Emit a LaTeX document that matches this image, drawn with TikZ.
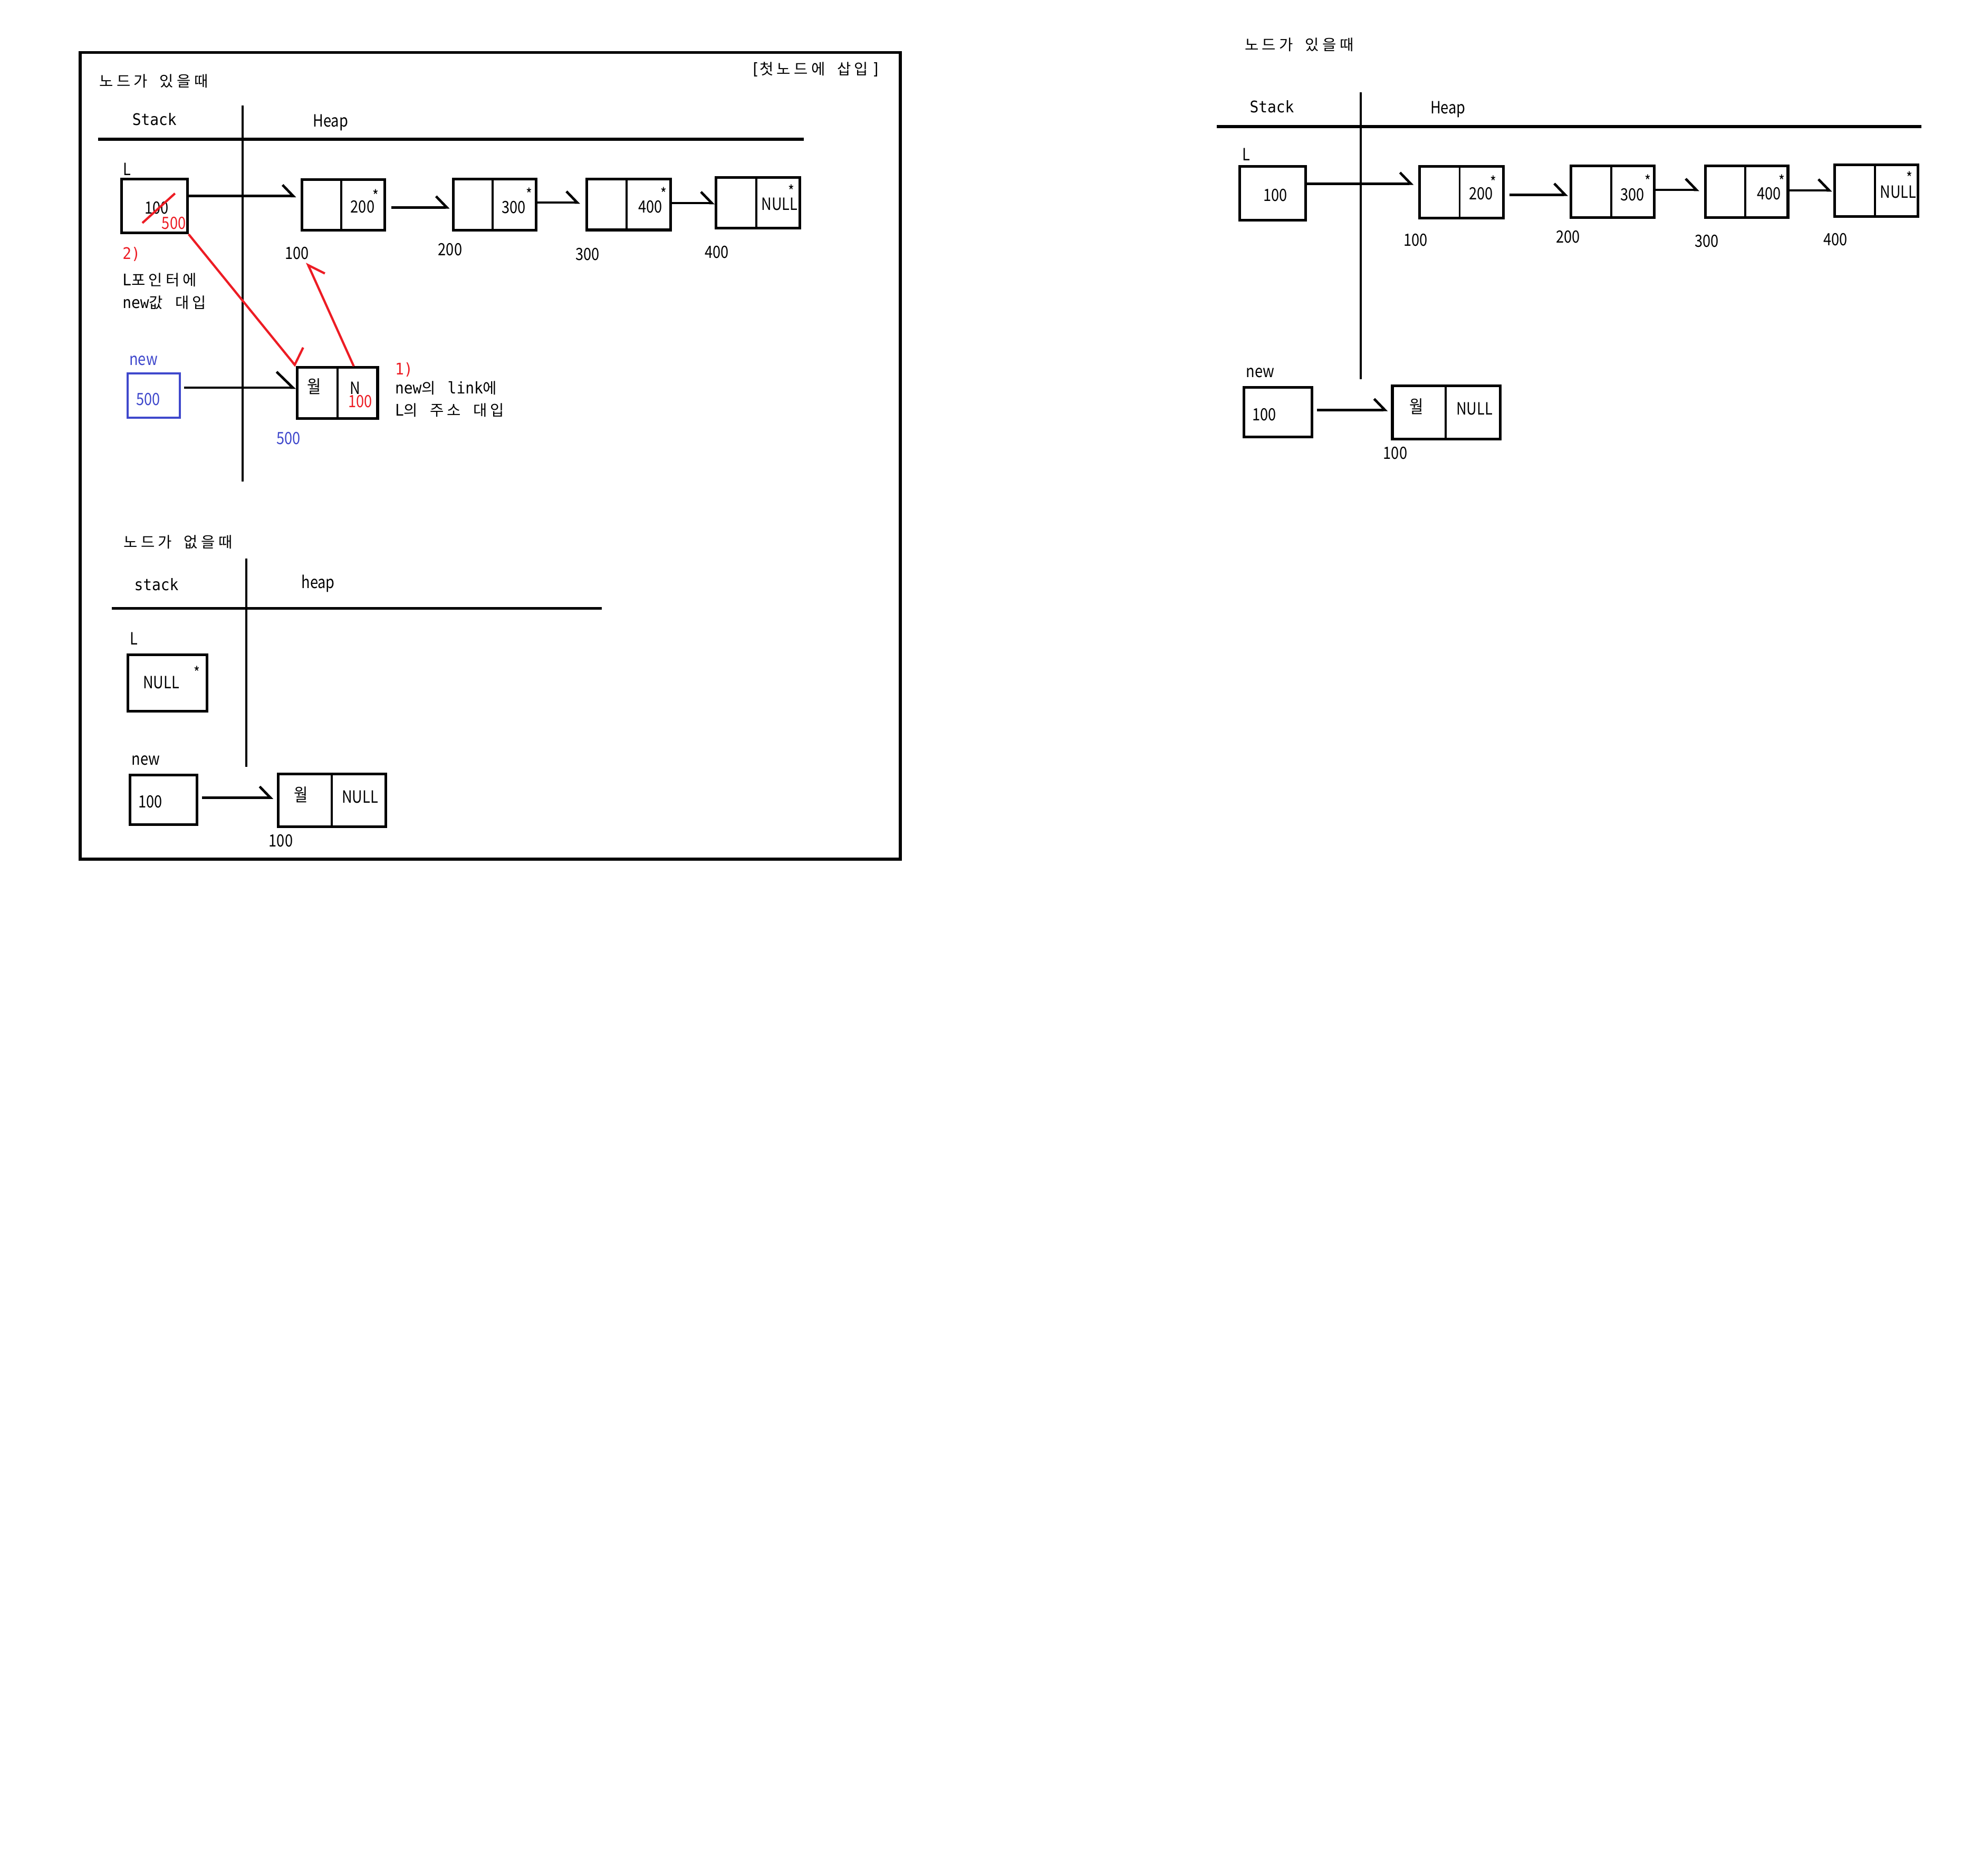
\documentclass[tikz,border=0pt]{standalone}
\usepackage{fontspec}
\setmainfont{Noto Sans CJK KR}[FakeStretch=0.85]
\newfontfamily\mykrp{Noto Sans CJK KR}
\newfontfamily\mymono{DejaVu Sans Mono}[FakeStretch=0.92]
\usetikzlibrary{arrows.meta}
\definecolor{pred}{RGB}{237,28,36}
\definecolor{pblue}{RGB}{63,72,204}
\newcommand\Mo[1]{{\fontsize{9pt}{11pt}\mymono #1}}
\makeatletter
\newcommand\Ko[1]{{\fontsize{8.5pt}{11pt}\mykrp\@tfor\kch:=#1\do{\kch\kern0.065cm}}}
\makeatother
\newcommand\mkbox[6][]{\node[box,#1,minimum width={(#5-#3-2)*0.025cm},minimum height={(#6-#4-2)*0.025cm}] (#2) at ({(#3+#5)/2},{(#4+#6)/2}) {};}
\newcommand\divider[2]{\draw[divl] (#1.north -| #2,0) -- (#1.south -| #2,0);}
\newcommand\myast{\raisebox{-0.4em}[\dimexpr\height-0.4em\relax][0pt]{*}}
\begin{document}
\begin{tikzpicture}[x=0.025cm,y=-0.025cm,
  box/.style={draw, line width=1.5pt, inner sep=0pt},
  divl/.style={line width=1.15pt},
  frm/.style={line width=1.6pt},
  vln/.style={line width=1.25pt},
  hln/.style={line width=1.55pt},
  link/.style={line width=1.4pt, -{Straight Barb[left,length=0.2125cm,width=0.44cm]}},
  redl/.style={draw=pred, line width=1.25pt},
  ptx/.style={inner sep=0pt, font=\fontsize{9.5pt}{11pt}\selectfont},
  astx/.style={inner sep=0pt, anchor=north, font=\fontsize{8.8pt}{10pt}\selectfont},
  mt/.style={inner sep=0pt, anchor=west},
  wol/.style={inner sep=0pt, font=\fontsize{10pt}{11pt}\selectfont}]
\useasboundingbox (0,0) rectangle (1568,1484.6);
\fill[white] (0,0) rectangle (1568,1484.6);

% ================= Panel 1 (framed) =================
\draw[frm] (63.4,41.5) rectangle (712.6,680);
\node[mt] (p1title) at (78.4,64) {\Ko{노드가}\Mo{\ }\Ko{있을때}};
\node[mt] (p1tag) at (594,55) {\Mo{[}\Ko{첫노드에}\Mo{\ }\Ko{삽입}\Mo{]}};
\node[mt] (p1stack) at (104.4,94.5) {\Mo{Stack}};
\node[ptx, anchor=base west] (p1heap) at (247.4,100.2) {Heap};
\draw[vln] (192,83.5) -- (192,381.3);
\draw[hln] (77.6,110.2) -- (636.4,110.2);

\node[ptx, anchor=west] (p1L) at (97.4,134) {L};
\mkbox{Lb}{95.1}{140.8}{149.3}{185.4}
\node[ptx] (Lold) at (124.1,164.4) {100};
\draw[redl] (112.7,176.5) -- (138.5,153.1);
\node[ptx, text=pred] (Lnew) at (137.6,176.5) {500};

\mkbox{hA}{238}{141.3}{305.5}{183.4}
\divider{hA}{270.1}
\node[ptx] (hAv) at (287,163.5) {200};
\node[astx] (hAs) at (297.3,149.4) {\myast};
\node[ptx] (lblA) at (235.2,200.4) {100};

\mkbox{hB}{358}{140.8}{425.3}{183.3}
\divider{hB}{390}
\node[ptx] (hBv) at (406.6,164) {300};
\node[astx] (hBs) at (419,148.1) {\myast};
\node[ptx] (lblB) at (356.3,197.6) {200};

\mkbox{hC}{463.5}{140.8}{531.7}{183}
\divider{hC}{495.9}
\node[ptx] (hCv) at (514.8,163.7) {400};
\node[astx] (hCs) at (525.3,147.8) {\myast};
\node[ptx] (lblC) at (465.2,201.1) {300};

\mkbox{hD}{565.7}{139.6}{633.9}{181.6}
\divider{hD}{598.6}
\node[ptx] (hDv) at (617,161.5) {NULL};
\node[astx] (hDs) at (626.2,145.7) {\myast};
\node[ptx] (lblD) at (567.4,199.4) {400};

\draw[link, shorten >=0.0875cm] (Lb.east |- 0,155.2) -- (hA.west |- 0,155.2);
\draw[link, shorten <=0.1cm, shorten >=0.05cm] (hA.east |- 0,164.2) -- (hB.west |- 0,164.2);
\draw[link, shorten >=0.1075cm] (hB.east |- 0,160.3) -- (hC.west |- 0,160.3);
\draw[link] (hC.east |- 0,160.7) -- (hD.west |- 0,160.7);

\node[mt, text=pred] (s2a) at (96.7,201.2) {\Mo{2)}};
\node[mt] (s2b) at (96.7,221.6) {\Mo{L}\Ko{포인터에}};
\node[mt] (s2c) at (96.7,239.4) {\Mo{new}\Ko{값}\Mo{\ }\Ko{대입}};

\node[ptx, anchor=west, text=pblue] (newlab) at (102.1,285.3) {new};
\mkbox[draw=pblue, line width=1.25pt]{nb}{100}{294.6}{143.2}{331.5}
\node[ptx, text=pblue] (nbv) at (117.3,316.1) {500};

\mkbox{hN}{234.2}{289.9}{299.9}{332.3}
\divider{hN}{267.2}
\node[wol] (hNd) at (248.6,306) {월};
\node[ptx] (hNn) at (281,307) {N};
\node[ptx, text=pred] (hNv) at (285.3,317.8) {100};
\node[ptx, text=pblue] (hNa) at (228.5,346.9) {500};

\draw[link, shorten <=0.065cm, -{Straight Barb[left,length=0.32cm,width=0.625cm]}] (nb.east |- 0,306.8) -- (hN.west |- 0,306.8);

\node[mt, text=pred] (s1a) at (312.4,292.6) {\Mo{1)}};
\node[mt] (s1b) at (312.4,307.2) {\Mo{new}\Ko{의}\Mo{\ link}\Ko{에}};
\node[mt] (s1c) at (312.4,324.6) {\Mo{L}\Ko{의}\Mo{\ }\Ko{주소}\Mo{\ }\Ko{대입}};

\draw[redl, -{Straight Barb[left,length=0.16cm,width=0.69cm]}] (Lb.south east) -- (hN.north west);
\draw[redl, -{Straight Barb[right,length=0.285cm,width=0.465cm]}] (hN.north -| 280,0) -- ([shift={(-2,2)}]lblA.south east);

% ---------- bottom part ----------
\node[mt] (p2title) at (97.6,429) {\Ko{노드가}\Mo{\ }\Ko{없을때}};
\node[mt] (p2stack) at (106,462.8) {\Mo{stack}};
\node[ptx, anchor=base west] (p2heap) at (238.3,465.6) {heap};
\draw[vln] (194.9,442.1) -- (194.9,607);
\draw[hln] (88.6,481.5) -- (476.5,481.5);
\node[ptx, anchor=west] (p2L) at (102.6,505.5) {L};
\mkbox{Lb2}{100.4}{517.1}{164.7}{563.9}
\node[ptx] (Lb2v) at (127.6,540.2) {NULL};
\node[astx] (Lb2s) at (155.7,526.9) {\myast};
\node[ptx, anchor=west] (p2new) at (104,602) {new};
\mkbox{nb2}{101.8}{612.4}{156.9}{653.8}
\node[ptx] (nb2v) at (118.9,634.6) {100};
\mkbox{hb}{219.2}{611.5}{306.5}{655.3}
\divider{hb}{262.6}
\node[wol] (hbd) at (238.1,629.2) {월};
\node[ptx] (hbn) at (285,630.8) {NULL};
\node[ptx] (hbl) at (222.3,665.6) {100};
\draw[link, shorten <=0.07cm, shorten >=0.07cm] (nb2.east |- 0,631.4) -- (hb.west |- 0,631.4);

% ================= Right panel =================
\node[mt] (p3title) at (985.1,35.3) {\Ko{노드가}\Mo{\ }\Ko{있을때}};
\node[mt] (p3stack) at (988.9,84.3) {\Mo{Stack}};
\node[ptx, anchor=base west] (p3heap) at (1131.9,89.8) {Heap};
\draw[vln] (1077,73.1) -- (1077,300.3);
\draw[hln] (963.2,100.2) -- (1520.9,100.2);
\node[ptx, anchor=west] (p3L) at (983.2,122.1) {L};
\mkbox{RL}{980.2}{130.8}{1034.3}{175.1}
\node[ptx] (RLv) at (1009.5,154.5) {100};

\mkbox{RA}{1122.7}{130.8}{1190.8}{173.7}
\divider{RA}{1155.3}
\node[ptx] (RAv) at (1172.1,153.4) {200};
\node[astx] (RAs) at (1181.8,138.8) {\myast};
\node[ptx] (RAl) at (1120.6,190) {100};

\mkbox{RB}{1242.3}{130.4}{1310.3}{173.3}
\divider{RB}{1275.2}
\node[ptx] (RBv) at (1292,153.9) {300};
\node[astx] (RBs) at (1304.3,137.7) {\myast};
\node[ptx] (RBl) at (1241.3,187.4) {200};

\mkbox{RC}{1348.9}{130.4}{1416.2}{173.3}
\divider{RC}{1381.4}
\node[ptx] (RCv) at (1400.1,153.2) {400};
\node[astx] (RCs) at (1410.2,137.7) {\myast};
\node[ptx] (RCl) at (1350.8,190.9) {300};

\mkbox{RD}{1451}{129.4}{1519}{172.3}
\divider{RD}{1483.9}
\node[ptx] (RDv) at (1502.4,151.8) {NULL};
\node[astx] (RDs) at (1511.5,135.3) {\myast};
\node[ptx] (RDl) at (1452.7,189.6) {400};

\draw[link, shorten >=0.0925cm] (RL.east |- 0,145.4) -- (RA.west |- 0,145.4);
\draw[link, shorten <=0.095cm, shorten >=0.03cm] (RA.east |- 0,154.1) -- (RB.west |- 0,154.1);
\draw[link, shorten >=0.095cm] (RB.east |- 0,150.3) -- (RC.west |- 0,150.3);
\draw[link, shorten >=0.02cm] (RC.east |- 0,150.7) -- (RD.west |- 0,150.7);

\node[ptx, anchor=west] (p3new) at (986.1,295.2) {new};
\mkbox{Rnew}{983.7}{305.5}{1039.3}{346.9}
\node[ptx] (Rnewv) at (1000.8,328.1) {100};
\mkbox{RN}{1101.1}{304.5}{1188.6}{348.6}
\divider{RN}{1144.3}
\node[wol] (RNd) at (1121.2,321.8) {월};
\node[ptx] (RNn) at (1167,323.7) {NULL};
\node[ptx] (RNl) at (1104.4,358.7) {100};
\draw[link, shorten <=0.0725cm, shorten >=0.065cm] (Rnew.east |- 0,324.5) -- (RN.west |- 0,324.5);
\end{tikzpicture}
\end{document}
